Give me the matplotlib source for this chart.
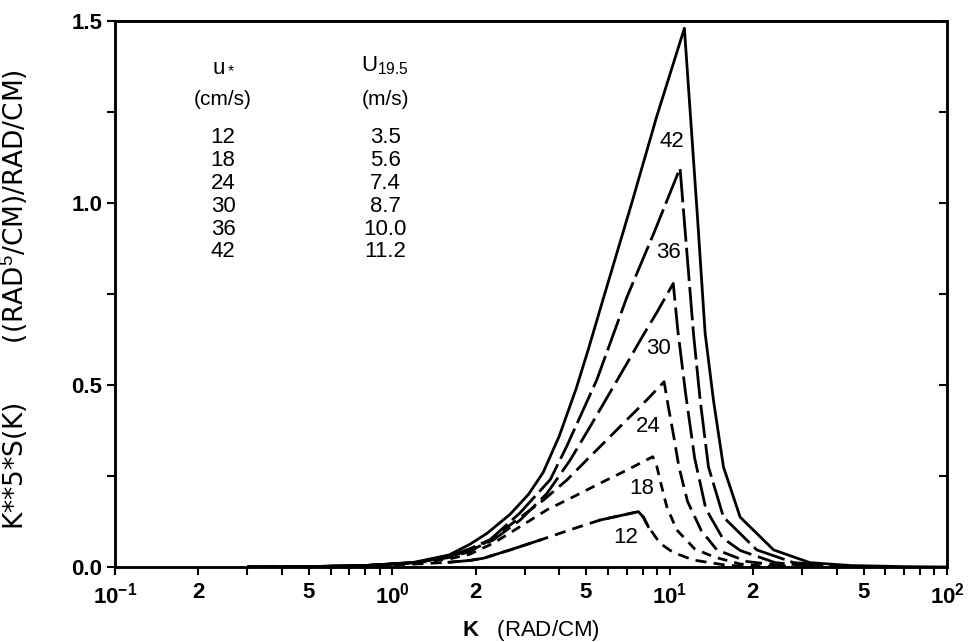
import matplotlib
matplotlib.use("Agg")
import matplotlib.pyplot as plt
import numpy as np

plt.rcParams["font.family"] = ["Liberation Sans", "DejaVu Sans"]
plt.rcParams["mathtext.fontset"] = "custom"
plt.rcParams["mathtext.rm"] = "Liberation Sans"
plt.rcParams["mathtext.it"] = "Liberation Sans:italic"
plt.rcParams["mathtext.bf"] = "Liberation Sans:bold"

# friction velocity (cm/s) and wind speed at 19.5 m (m/s)
u_star = [12, 18, 24, 30, 36, 42]
u_195 = ["3.5", "5.6", "7.4", "8.7", "10.0", "11.2"]

# curves: wavenumber K (rad/cm) and K**5*S(K)
k_12 = [0.3, 0.5, 0.8, 1.2, 1.6, 1.9, 2.13, 2.66, 3.41, 4.37, 5.61, 7.71,
        8.04, 8.37, 9.23, 10.3, 12.2, 16, 20]
s_12 = [0.0, 0.001, 0.003, 0.008, 0.013, 0.018, 0.024, 0.047, 0.074, 0.102, 0.129, 0.152,
        0.137, 0.111, 0.065, 0.040, 0.019, 0.005, 0.0]

k_18 = [0.3, 0.5, 0.8, 1.2, 1.6, 1.9, 2.31, 2.89, 3.61, 4.5, 5.61, 7.0, 8.69,
        9.0, 9.23, 9.76, 10.6, 12.3, 14.4, 18, 24]
s_18 = [0.0, 0.001, 0.004, 0.011, 0.022, 0.035, 0.065, 0.111, 0.157, 0.193, 0.230, 0.266, 0.303,
        0.275, 0.239, 0.166, 0.102, 0.050, 0.028, 0.008, 0.0]

k_24 = [0.3, 0.5, 0.8, 1.2, 1.6, 1.9, 2.25, 2.81, 3.51, 4.26, 5.02, 5.93, 7.0, 8.27, 9.55,
        9.89, 10.3, 10.8, 11.6, 13.0, 14.8, 19, 28]
s_24 = [0.0, 0.001, 0.004, 0.012, 0.026, 0.042, 0.074, 0.129, 0.184, 0.239, 0.294, 0.349, 0.404, 0.459, 0.509,
        0.440, 0.367, 0.275, 0.180, 0.100, 0.047, 0.015, 0.0]

k_30 = [0.3, 0.5, 0.8, 1.2, 1.6, 1.9, 2.31, 2.89, 3.61, 4.38, 5.16, 5.93, 6.9, 7.93, 9.0, 10.3,
        10.7, 11.4, 12.3, 13.5, 15.5, 18, 24, 35]
s_30 = [0.0, 0.001, 0.004, 0.012, 0.028, 0.045, 0.074, 0.129, 0.202, 0.294, 0.385, 0.464, 0.550, 0.630, 0.700, 0.779,
        0.650, 0.480, 0.300, 0.160, 0.080, 0.045, 0.012, 0.0]

k_36 = [0.3, 0.5, 0.8, 1.2, 1.6, 1.9, 2.25, 2.88, 3.71, 4.25, 5.46, 7.0, 8.8, 10.9,
        12.18, 12.88, 13.8, 15.63, 20.6, 28, 40, 55]
s_36 = [0.0, 0.001, 0.004, 0.012, 0.030, 0.050, 0.075, 0.148, 0.240, 0.331, 0.514, 0.740, 0.920, 1.096,
        0.643, 0.459, 0.275, 0.137, 0.047, 0.012, 0.002, 0.0]

k_42 = [0.3, 0.5, 0.8, 1.2, 1.6, 1.9, 2.2, 2.66, 3.1, 3.5, 4.0, 4.6, 5.1, 5.7, 7.3, 9.0, 11.3,
        12.6, 13.42, 14.38, 15.63, 17.95, 23.7, 32, 45, 70, 100]
s_42 = [0.0, 0.001, 0.004, 0.013, 0.033, 0.062, 0.093, 0.145, 0.200, 0.260, 0.360, 0.490, 0.600, 0.725, 1.0, 1.24, 1.48,
        0.96, 0.643, 0.459, 0.275, 0.137, 0.047, 0.012, 0.004, 0.001, 0.0]

# where the curve numbers sit
label_k = [6.92, 7.96, 8.36, 9.08, 9.87, 10.2]
label_s = [0.08, 0.217, 0.385, 0.60, 0.865, 1.17]

x_ticks = [m * 10.0 ** e for e in (-1, 0, 1) for m in range(1, 10)] + [100.0]
x_labels = {0.1: "$\\mathbf{10^{-1}}$", 1.0: "$\\mathbf{10^{0}}$", 10.0: "$\\mathbf{10^{1}}$",
            100.0: "$\\mathbf{10^{2}}$"}


def tick_text(t):
    if t in x_labels:
        return x_labels[t]
    m = int(round(t / 10 ** np.floor(np.log10(t) + 1e-9)))
    return "$\\mathbf{%d}$" % m if m in (2, 5) else ""


curves = [(k_12, s_12), (k_18, s_18), (k_24, s_24), (k_30, s_30), (k_36, s_36), (k_42, s_42)]
styles = [(0, (4, 2.6)), (0, (3.5, 2.6)), (0, (6, 2.6)), (0, (10, 2.5)), (0, (12, 2.2)), "-"]

fig = plt.figure(figsize=(9.71, 6.42), dpi=100)
ax = fig.add_axes([115 / 971, 1 - 567 / 642, 832 / 971, 546 / 642])

lw = 2.0
for (k, s), ls in zip(curves, styles):
    ax.plot(k, s, color="black", lw=lw, linestyle=ls, solid_capstyle="butt", dash_capstyle="butt")
# the lowest curve is partly drawn solid
ax.plot(k_12[4:9], s_12[4:9], color="black", lw=lw)
ax.plot(k_12[10:14], s_12[10:14], color="black", lw=lw)

for lab, kx, sy in zip(u_star, label_k, label_s):
    ax.text(kx, sy, str(lab), ha="center", va="center", fontsize=16)

ax.set_xscale("log")
ax.set_xlim(0.1, 100)
ax.set_ylim(0, 1.5)
ax.set_xticks(x_ticks)
ax.set_xticklabels([tick_text(t) for t in x_ticks])
ax.minorticks_off()
ax.set_yticks(np.arange(0, 1.51, 0.25))
ax.set_yticklabels(["0.0", "", "0.5", "", "1.0", "", "1.5"], fontweight="bold")
ax.tick_params(axis="both", direction="out", length=6, width=1.5, labelsize=16)
ax.tick_params(axis="x", pad=5)
ax.tick_params(axis="y", pad=3)
for sp in ax.spines.values():
    sp.set_linewidth(1.8)

ax2 = ax.twinx()
ax2.set_ylim(0, 1.5)
ax2.set_yticks(np.arange(0, 1.51, 0.25))
ax2.tick_params(axis="y", direction="in", length=6, width=1.5, labelright=False)
for sp in ax2.spines.values():
    sp.set_linewidth(1.8)

ax.set_xlabel("$\\mathbf{K}$   (RAD/CM)", fontsize=16)
ax.xaxis.set_label_coords(0.5, -0.094)
ax.set_ylabel("K**5*S(K)       ((RAD$^5$/CM)/RAD/CM)", fontsize=19, family="DejaVu Sans")
ax.yaxis.set_label_coords(-0.101, 0.489)

# little table of wind conditions
tx1, tx2 = 0.13, 0.325
ax.text(tx1, 0.919, "u$_*$", transform=ax.transAxes, ha="center", va="center", fontsize=16)
ax.text(tx2, 0.919, "U$_{19.5}$", transform=ax.transAxes, ha="center", va="center", fontsize=16)
ax.text(tx1, 0.857, "(cm/s)", transform=ax.transAxes, ha="center", va="center", fontsize=15)
ax.text(tx2, 0.857, "(m/s)", transform=ax.transAxes, ha="center", va="center", fontsize=15)
for i, (a, b) in enumerate(zip(u_star, u_195)):
    yy = 0.787 - i * 0.042
    ax.text(tx1, yy, str(a), transform=ax.transAxes, ha="center", va="center", fontsize=16)
    ax.text(tx2, yy, b, transform=ax.transAxes, ha="center", va="center", fontsize=16)

fig.savefig("out.png", dpi=100)
